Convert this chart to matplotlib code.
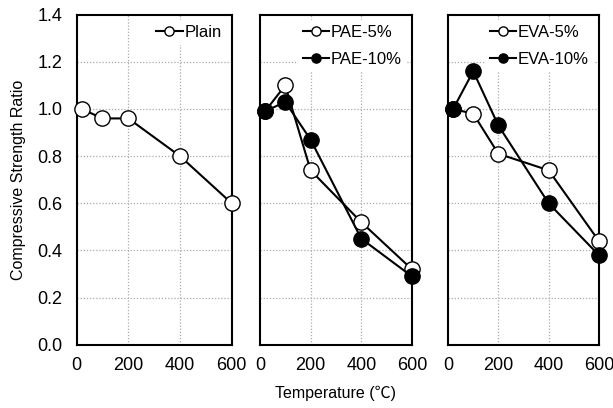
import matplotlib.pyplot as plt

plt.rcParams['font.family'] = ['Liberation Sans', 'DejaVu Sans']

# temperature points (C)
temps = [20, 100, 200, 400, 600]

plain = [1.00, 0.96, 0.96, 0.80, 0.60]
pae_5 = [0.99, 1.10, 0.74, 0.52, 0.32]
pae_10 = [0.99, 1.03, 0.87, 0.45, 0.29]
eva_5 = [1.00, 0.98, 0.81, 0.74, 0.44]
eva_10 = [1.00, 1.16, 0.93, 0.60, 0.38]

xticks = [0, 200, 400, 600]
yticks = [0.0, 0.2, 0.4, 0.6, 0.8, 1.0, 1.2, 1.4]

fig = plt.figure(figsize=(6.13, 4.08), dpi=100)
pos = [[0.125, 0.155, 0.253, 0.809],
       [0.424, 0.155, 0.248, 0.809],
       [0.731, 0.155, 0.246, 0.809]]
axes = [fig.add_axes(p) for p in pos]

panels = [
    [("Plain", plain, "white")],
    [("PAE-5%", pae_5, "white"), ("PAE-10%", pae_10, "black")],
    [("EVA-5%", eva_5, "white"), ("EVA-10%", eva_10, "black")],
]

for i, ax in enumerate(axes):
    for name, vals, fc in panels[i]:
        ax.plot(temps, vals, color='black', lw=1.5, marker='o', ms=11,
                mfc=fc, mec='black', mew=1.0, label=name, clip_on=False, zorder=3)
    ax.set_xlim(0, 600)
    ax.set_ylim(0, 1.4)
    ax.set_xticks(xticks)
    ax.set_yticks(yticks)
    # dotted grid, inner lines only
    for gx in [200, 400]:
        ax.axvline(gx, color='#aaaaaa', lw=0.9, ls=(0, (1, 1.5)), zorder=0)
    for gy in yticks[1:-1]:
        ax.axhline(gy, color='#aaaaaa', lw=0.9, ls=(0, (1, 1.5)), zorder=0)
    ax.tick_params(length=0, labelsize=13, pad=9)
    if i == 0:
        ax.set_yticklabels(["%.1f" % v for v in yticks])
        ax.tick_params(axis='y', pad=10)
    else:
        ax.set_yticklabels([])
    for s in ax.spines.values():
        s.set_linewidth(1.5)
    leg = ax.legend(loc='upper right', frameon=True, fontsize=12, handlelength=1.6,
                    handletextpad=0.1, labelspacing=0.75, markerscale=0.6,
                    borderaxespad=0.3, borderpad=0.3)
    leg.get_frame().set_edgecolor('none')
    leg.get_frame().set_facecolor('white')
    leg.get_frame().set_alpha(1)
    leg.set_zorder(5)

axes[0].set_ylabel("Compressive Strength Ratio", fontsize=11.5, labelpad=8)
fig.text(0.548, 0.037, "Temperature (℃)", ha='center', va='center', fontsize=11.5,
         family=['Liberation Sans', 'Noto Sans CJK SC', 'DejaVu Sans'])

fig.savefig("out.png", dpi=100)
